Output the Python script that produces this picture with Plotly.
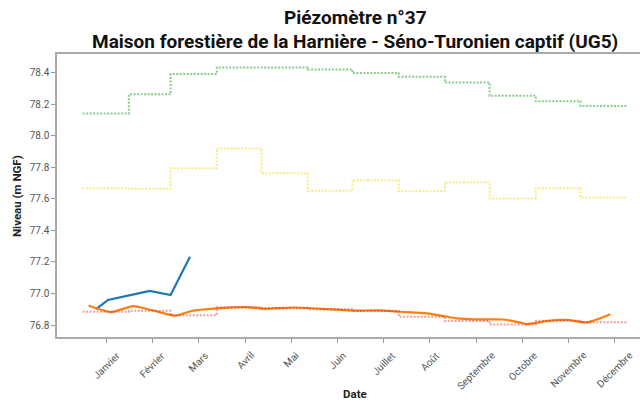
import pandas as pd
import plotly.graph_objects as go

# ---------------- data ----------------
months = ["Janvier", "Février", "Mars", "Avril", "Mai", "Juin", "Juillet",
          "Août", "Septembre", "Octobre", "Novembre", "Décembre"]

# monthly statistics (step lines)
stat_max = [78.142, 78.263, 78.392, 78.434, 78.434, 78.421, 78.398, 78.374,
            78.339, 78.254, 78.220, 78.189]
stat_mid = [77.667, 77.664, 77.794, 77.920, 77.762, 77.652, 77.719, 77.650,
            77.705, 77.603, 77.667, 77.609]
stat_min = [76.884, 76.890, 76.862, 76.912, 76.906, 76.900, 76.889, 76.853,
            76.825, 76.803, 76.827, 76.817]

# current year (days since 1 January)
cur_days = [9, 17, 32, 45, 59, 72]
cur_vals = [76.901, 76.959, 76.990, 77.016, 76.990, 77.233]

# previous year (days since 1 January)
prev_days = [4, 9, 19, 34, 46, 62, 73, 90, 109, 122, 141, 164, 183, 199, 213,
             231, 242, 251, 264, 282, 293, 298, 305, 311, 325, 338, 347, 354]
prev_vals = [76.924, 76.906, 76.882, 76.920, 76.895, 76.859, 76.889, 76.905,
             76.914, 76.903, 76.911, 76.901, 76.891, 76.893, 76.884, 76.874,
             76.857, 76.842, 76.836, 76.835, 76.817, 76.806, 76.815, 76.825,
             76.832, 76.817, 76.842, 76.868]

y_ticks = [76.8, 77.0, 77.2, 77.4, 77.6, 77.8, 78.0, 78.2, 78.4]

title_lines = ["Piézomètre n°37",
               "Maison forestière de la Harnière - Séno-Turonien captif (UG5)"]
x_title = "Date"
y_title = "Niveau (m NGF)"

# ---------------- build ----------------
W, H = 640, 401
ML, MR, MT, MB = 57, 0, 54, 64
PW, PH = W - ML - MR, H - MT - MB


def px_x(p):
    return (p - ML) / PW


def px_y(p):
    return 1 + (MT - p) / PH


year0 = pd.Timestamp("2023-01-01")
month_edges = pd.date_range("2023-01-01", periods=13, freq="MS")
tick_dates = pd.date_range("2023-01-17", periods=12, freq="31D")


def step_y(vals):
    return list(vals) + [vals[-1]]


cur_x = [year0 + pd.Timedelta(days=d) for d in cur_days]
prev_x = [year0 + pd.Timedelta(days=d) for d in prev_days]

fig = go.Figure()
fig.add_trace(go.Scatter(x=cur_x, y=cur_vals, mode="lines",
                         line=dict(color="#1f77b4", width=2.2)))
fig.add_trace(go.Scatter(x=prev_x, y=prev_vals, mode="lines",
                         line=dict(color="#ff7f0e", width=2.2, shape="spline", smoothing=0.6)))
fig.add_trace(go.Scatter(x=month_edges, y=step_y(stat_max), mode="lines",
                         line=dict(color="rgba(44,160,44,0.55)", width=2,
                                   shape="hv", dash="2px,1.5px")))
fig.add_trace(go.Scatter(x=month_edges, y=step_y(stat_mid), mode="lines",
                         line=dict(color="rgba(248,222,70,0.65)", width=2,
                                   shape="hv", dash="2px,1.5px")))
fig.add_trace(go.Scatter(x=month_edges, y=step_y(stat_min), mode="lines",
                         line=dict(color="rgba(214,39,40,0.45)", width=2,
                                   shape="hv", dash="2px,1.5px")))

x_range = [year0 - pd.Timedelta(days=17.2), year0 + pd.Timedelta(days=373.9)]

annotations = []
for d, lab in zip(tick_dates, months):
    annotations.append(dict(x=d, y=0, xref="x", yref="paper", text=lab,
                            showarrow=False, textangle=-45, xanchor="center",
                            yanchor="top", yshift=-10,
                            font=dict(family="Roboto", size=10, color="#555555")))

title_centers = [18, 42]
for txt, yc in zip(title_lines, title_centers):
    annotations.append(dict(x=px_x(355), y=px_y(yc), xref="paper", yref="paper",
                            text="<b>%s</b>" % txt, showarrow=False,
                            xanchor="center", yanchor="middle",
                            font=dict(family="Roboto", size=19, color="#111111")))

annotations.append(dict(x=px_x(355), y=px_y(394), xref="paper", yref="paper",
                        text="<b>%s</b>" % x_title, showarrow=False,
                        xanchor="center", yanchor="middle",
                        font=dict(family="Roboto", size=11.5, color="#222222")))
annotations.append(dict(x=px_x(17), y=px_y(196), xref="paper", yref="paper",
                        text="<b>%s</b>" % y_title, showarrow=False,
                        textangle=-90, xanchor="center", yanchor="middle",
                        font=dict(family="Roboto", size=11.5, color="#222222")))

fig.update_layout(
    width=W, height=H,
    margin=dict(l=ML, r=MR, t=MT, b=MB, autoexpand=False),
    paper_bgcolor="white", plot_bgcolor="white",
    showlegend=False,
    font=dict(family="Roboto", color="#333333"),
    annotations=annotations,
    xaxis=dict(range=x_range, type="date", tickvals=list(tick_dates),
               showticklabels=False, ticks="outside", ticklen=4,
               tickcolor="#999999", showline=True, linecolor="#aaaaaa",
               linewidth=1.5, mirror=True, showgrid=False, zeroline=False,
               automargin=False),
    yaxis=dict(range=[76.724, 78.519], tickvals=y_ticks, tickformat=".1f",
               ticks="outside", ticklen=4, tickcolor="#999999",
               showline=True, linecolor="#aaaaaa", linewidth=1.5,
               showgrid=False, zeroline=False, automargin=False,
               tickfont=dict(family="Roboto", size=10, color="#555555")),
)

fig.write_html("out.html", config={"displayModeBar": False},
               post_script="document.body.style.margin='0';document.body.style.padding='0';")
